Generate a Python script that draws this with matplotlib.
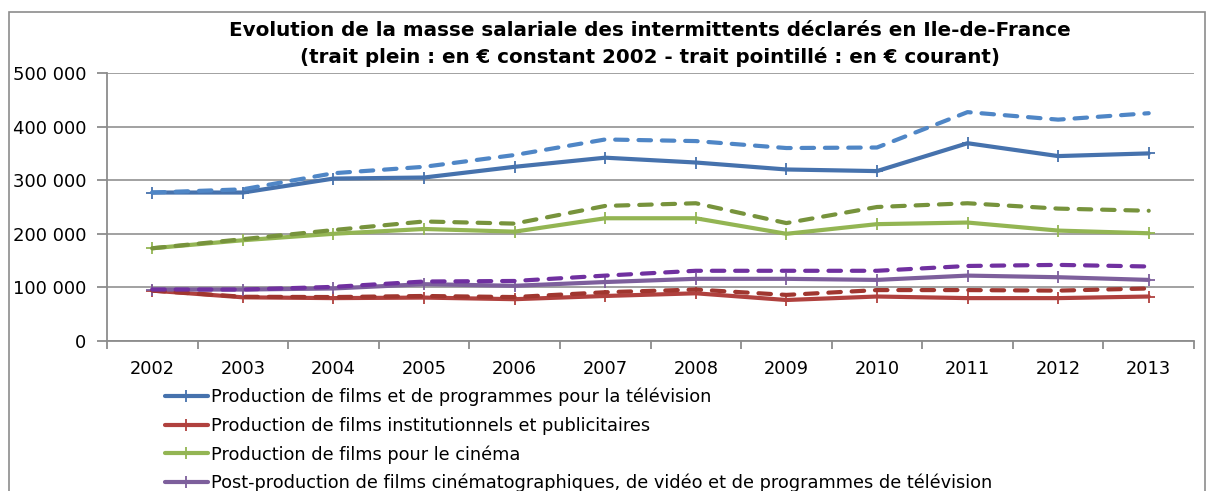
import numpy as np
import matplotlib.pyplot as plt
from matplotlib.patches import Rectangle

years = ["2002", "2003", "2004", "2005", "2006", "2007", "2008", "2009", "2010", "2011", "2012", "2013"]

# trait plein : euros constants 2002
tele_const = [277000, 277000, 303000, 305000, 325000, 342000, 333000, 320000, 317000, 369000, 345000, 350000]
inst_const = [94000, 81500, 80000, 81000, 78000, 84000, 89000, 76500, 83000, 80000, 80000, 83000]
cine_const = [173000, 188000, 200000, 209000, 204000, 229000, 229000, 200000, 218000, 221000, 206000, 201000]
post_const = [96000, 96000, 98000, 106000, 103000, 110000, 116000, 116000, 114000, 122000, 119000, 114000]

# trait pointille : euros courants
tele_cour = [277000, 283000, 313000, 325000, 347000, 376000, 373000, 360000, 361000, 427000, 413000, 425000]
inst_cour = [94000, 82500, 82000, 84000, 82000, 91000, 96000, 86000, 95000, 95000, 94000, 98000]
cine_cour = [173000, 190000, 207000, 223000, 219000, 252000, 257000, 220000, 250000, 257000, 247000, 243000]
post_cour = [96000, 96000, 101000, 111000, 112000, 122000, 131000, 131000, 131000, 140000, 142000, 139000]

labels = ["Production de films et de programmes pour la télévision",
          "Production de films institutionnels et publicitaires",
          "Production de films pour le cinéma",
          "Post-production de films cinématographiques, de vidéo et de programmes de télévision"]

const_colors = ["#4672AD", "#B0413E", "#93B553", "#7D5F9C"]
cour_colors = ["#4F86C6", "#A0362F", "#77933C", "#7030A0"]

yticks = [0, 100000, 200000, 300000, 400000, 500000]
ytick_labels = ["0", "100 000", "200 000", "300 000", "400 000", "500 000"]

fig = plt.figure(figsize=(12.06, 4.91), dpi=100)
fig.patches.append(Rectangle((9 / 1206, -0.1), 1196 / 1206, 1.1 - 12 / 491,
                             transform=fig.transFigure, fill=False,
                             edgecolor="#8c8c8c", linewidth=1.2))

ax = fig.add_axes([107 / 1206, 150 / 491, 1087 / 1206, 268 / 491])
x = np.arange(len(years))

for vals, col in zip([tele_const, inst_const, cine_const, post_const], const_colors):
    ax.plot(x, vals, color=col, lw=3, marker="+", markersize=9, mew=1.3,
            solid_capstyle="round", zorder=3)
for vals, col in zip([tele_cour, inst_cour, cine_cour, post_cour], cour_colors):
    ax.plot(x, vals, color=col, lw=3, linestyle=(0, (3.0, 2.6)),
            dash_capstyle="round", zorder=4)

ax.set_xlim(-0.5, 11.5)
ax.set_ylim(0, 500000)
ax.set_yticks(yticks)
ax.set_yticklabels(ytick_labels, fontsize=13)
ax.set_xticks(x)
ax.set_xticklabels(years, fontsize=12.8)
ax.set_xticks(np.arange(-0.5, 12, 1), minor=True)
ax.tick_params(axis="x", which="major", length=0, pad=14)
ax.tick_params(axis="x", which="minor", length=6, color="#8c8c8c", width=1.3)
ax.tick_params(axis="y", length=7, color="#8c8c8c", width=1.3, pad=8)

ax.grid(axis="y", color="#9a9a9a", lw=1.3)
ax.set_axisbelow(True)
for s in ["top", "right"]:
    ax.spines[s].set_visible(False)
for s in ["left", "bottom"]:
    ax.spines[s].set_color("#8c8c8c")
    ax.spines[s].set_linewidth(1.3)

fig.text(0.539, 0.937, "Evolution de la masse salariale des intermittents déclarés en Ile-de-France",
         ha="center", va="center", fontsize=14.3, fontweight="bold")
fig.text(0.539, 0.884, "(trait plein : en € constant 2002 - trait pointillé : en € courant)",
         ha="center", va="center", fontsize=14.3, fontweight="bold")

handles = [plt.Line2D([], [], color=c, lw=3, marker="+", markersize=9, mew=1.3,
                      solid_capstyle="round") for c in const_colors]
fig.legend(handles, labels, loc="upper left", bbox_to_anchor=(165 / 1206, 1 - 388 / 491),
           frameon=False, fontsize=12.8, handlelength=2.4, handletextpad=0.2,
           labelspacing=0.58, borderaxespad=0, borderpad=0)

fig.savefig("out.png", dpi=100)
